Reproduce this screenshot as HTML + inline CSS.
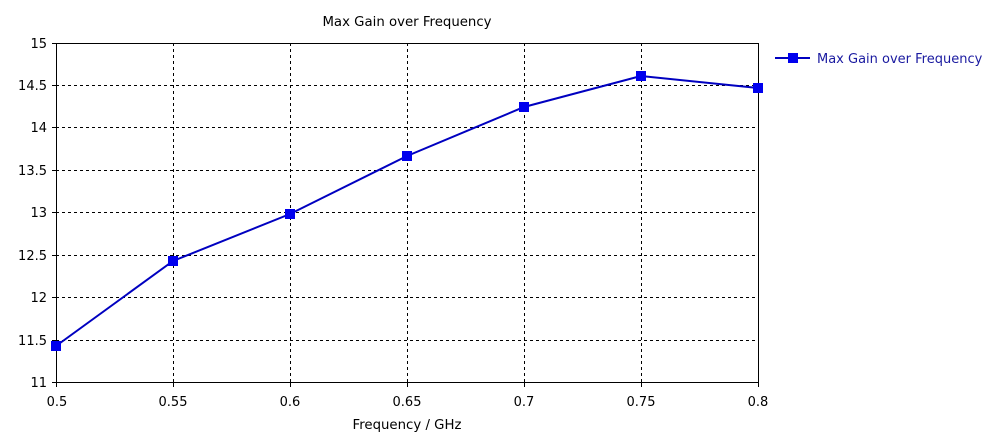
<!DOCTYPE html>
<html><head><meta charset="utf-8"><style>
html,body{margin:0;padding:0;background:#fff;}
svg{display:block;font-family:"DejaVu Sans","Liberation Sans",sans-serif;}
</style></head><body>
<svg width="991" height="436" viewBox="0 0 991 436" xmlns="http://www.w3.org/2000/svg">
<rect width="991" height="436" fill="#fff"/>
<text x="407" y="26" font-size="13.3" text-anchor="middle" fill="#000">Max Gain over Frequency</text>
<g stroke="#000" stroke-width="1" stroke-dasharray="3,3" shape-rendering="crispEdges">
<line x1="173.5" y1="43" x2="173.5" y2="383"/>
<line x1="290.5" y1="43" x2="290.5" y2="383"/>
<line x1="407.5" y1="43" x2="407.5" y2="383"/>
<line x1="524.5" y1="43" x2="524.5" y2="383"/>
<line x1="641.5" y1="43" x2="641.5" y2="383"/>
<line x1="56" y1="85.5" x2="758" y2="85.5"/>
<line x1="56" y1="127.5" x2="758" y2="127.5"/>
<line x1="56" y1="170.5" x2="758" y2="170.5"/>
<line x1="56" y1="212.5" x2="758" y2="212.5"/>
<line x1="56" y1="255.5" x2="758" y2="255.5"/>
<line x1="56" y1="297.5" x2="758" y2="297.5"/>
<line x1="56" y1="340.5" x2="758" y2="340.5"/>
</g>
<g stroke="#000" stroke-width="1" shape-rendering="crispEdges" fill="none">
<rect x="56.5" y="43.5" width="702" height="339"/>
<line x1="52" y1="43.5" x2="56" y2="43.5"/><line x1="52" y1="85.5" x2="56" y2="85.5"/>
<line x1="52" y1="127.5" x2="56" y2="127.5"/><line x1="52" y1="170.5" x2="56" y2="170.5"/>
<line x1="52" y1="212.5" x2="56" y2="212.5"/><line x1="52" y1="255.5" x2="56" y2="255.5"/>
<line x1="52" y1="297.5" x2="56" y2="297.5"/><line x1="52" y1="340.5" x2="56" y2="340.5"/>
<line x1="52" y1="382.5" x2="56" y2="382.5"/>
<line x1="56.5" y1="383" x2="56.5" y2="387"/><line x1="173.5" y1="383" x2="173.5" y2="387"/>
<line x1="290.5" y1="383" x2="290.5" y2="387"/><line x1="407.5" y1="383" x2="407.5" y2="387"/>
<line x1="524.5" y1="383" x2="524.5" y2="387"/><line x1="641.5" y1="383" x2="641.5" y2="387"/>
<line x1="758.5" y1="383" x2="758.5" y2="387"/>
</g>
<g font-size="13" fill="#000" text-anchor="end">
<text x="47" y="48">15</text><text x="47" y="90">14.5</text><text x="47" y="132">14</text>
<text x="47" y="175">13.5</text><text x="47" y="217">13</text><text x="47" y="260">12.5</text>
<text x="47" y="302">12</text><text x="47" y="345">11.5</text><text x="47" y="387">11</text>
</g>
<g font-size="13" fill="#000" text-anchor="middle">
<text x="57" y="406">0.5</text><text x="173" y="406">0.55</text><text x="290" y="406">0.6</text>
<text x="407" y="406">0.65</text><text x="524" y="406">0.7</text><text x="641" y="406">0.75</text>
<text x="758" y="406">0.8</text>
<text x="407" y="429" font-size="13.3">Frequency / GHz</text>
</g>
<polyline fill="none" stroke="#0000c0" stroke-width="2" points="56,346 173,261 290,214 407,156 524,107 641,76 758,88"/>
<g fill="#0000ee">
<rect x="51" y="341" width="10" height="10"/><rect x="168" y="256" width="10" height="10"/>
<rect x="285" y="209" width="10" height="10"/><rect x="402" y="151" width="10" height="10"/>
<rect x="519" y="102" width="10" height="10"/><rect x="636" y="71" width="10" height="10"/>
<rect x="753" y="83" width="10" height="10"/>
</g>
<line x1="775" y1="58" x2="810" y2="58" stroke="#0000c0" stroke-width="2"/>
<rect x="788" y="53" width="10" height="10" fill="#0000ee"/>
<text x="817" y="63" font-size="13" fill="#1a1aa0">Max Gain over Frequency</text>
</svg>
</body></html>
